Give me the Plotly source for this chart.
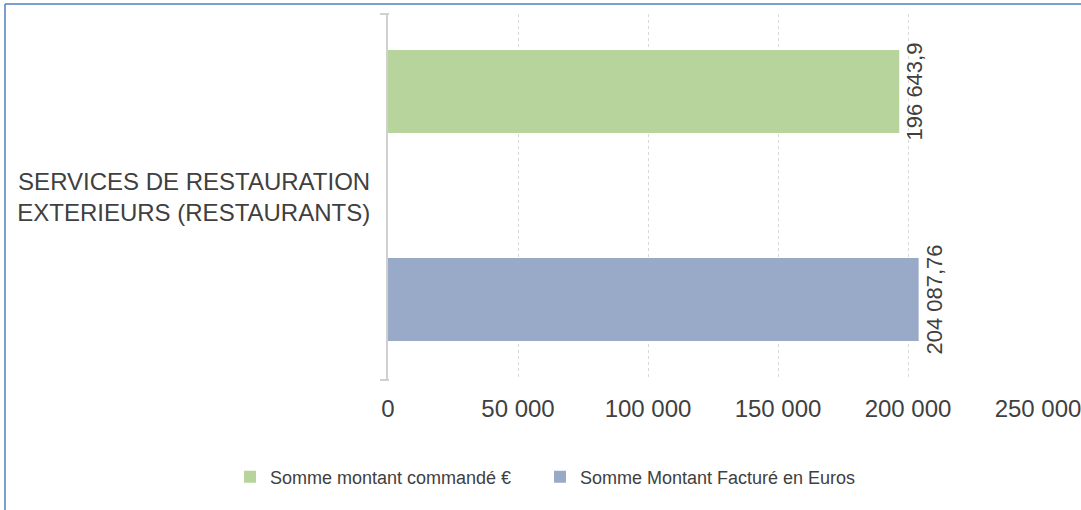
import plotly.graph_objects as go

categories = ["SERVICES DE RESTAURATION<br>EXTERIEURS (RESTAURANTS)"]
series_names = ["Somme montant commandé €", "Somme Montant Facturé en Euros"]
commande = [196643.9]
facture = [204087.76]
commande_labels = ["196 643,9"]
facture_labels = ["204 087,76"]
tick_vals = [0, 50000, 100000, 150000, 200000, 250000]
tick_text = ["0", "50 000", "100 000", "150 000", "200 000", "250 000"]

FONT = "Liberation Sans, Arial, sans-serif"
TXT = "#404040"

L, R, T, B = 388, 43, 14, 130
W, H = 1081, 510
pw, ph = W - L - R, H - T - B

def px(x):
    return (x - L) / pw

def py(y):
    return (H - B - y) / ph

BAR_W = 83 / ph

fig = go.Figure()
fig.add_trace(go.Bar(
    y=categories, x=commande, orientation="h", name=series_names[0],
    marker=dict(color="#b6d49b", line=dict(width=0)),
    width=BAR_W, offset=(50 - T) / ph - 0.5, legend="legend",
    text=commande_labels, textposition="outside", textangle=-90,
    textfont=dict(size=22, color=TXT, family=FONT), cliponaxis=False,
))
fig.add_trace(go.Bar(
    y=categories, x=facture, orientation="h", name=series_names[1],
    marker=dict(color="#98aac8", line=dict(width=0)),
    width=BAR_W, offset=(258 - T) / ph - 0.5, legend="legend2",
    text=facture_labels, textposition="outside", textangle=-90,
    textfont=dict(size=22, color=TXT, family=FONT), cliponaxis=False,
))

shapes = [
    dict(type="line", xref="paper", yref="paper", x0=px(5), x1=px(1081), y0=py(4), y1=py(4),
         line=dict(color="#4f81bd", width=1.5)),
    dict(type="line", xref="paper", yref="paper", x0=px(5), x1=px(5), y0=py(4), y1=py(510),
         line=dict(color="#4f81bd", width=1.5)),
    dict(type="line", xref="paper", yref="paper", x0=px(380), x1=px(389), y0=1, y1=1,
         line=dict(color="#d0d0d0", width=2)),
    dict(type="line", xref="paper", yref="paper", x0=px(380), x1=px(389), y0=0, y1=0,
         line=dict(color="#d0d0d0", width=2)),
]

legend_font = dict(size=18, color=TXT, family=FONT)

fig.update_layout(
    width=W, height=H,
    margin=dict(l=L, r=R, t=T, b=B, autoexpand=False),
    paper_bgcolor="white", plot_bgcolor="white",
    barmode="overlay",
    font=dict(family=FONT, color=TXT),
    showlegend=True,
    legend=dict(orientation="h", x=px(230), xanchor="left", y=py(477), yanchor="middle",
                font=legend_font),
    legend2=dict(orientation="h", x=px(540), xanchor="left", y=py(477), yanchor="middle",
                 font=legend_font),
    shapes=shapes,
    xaxis=dict(range=[0, 250000], tickvals=tick_vals, ticktext=tick_text,
               showgrid=True, gridcolor="#d9d9d9", griddash="dot", gridwidth=1,
               zeroline=False, showline=False, automargin=False,
               ticklabeloverflow="allow",
               ticks="outside", ticklen=7, tickcolor="rgba(0,0,0,0)",
               tickfont=dict(size=24, color=TXT, family=FONT)),
    yaxis=dict(range=[0.5, -0.5], showline=True, linecolor="#d0d0d0", linewidth=2,
               showgrid=False, zeroline=False, automargin=False,
               ticks="outside", ticklen=11, tickcolor="rgba(0,0,0,0)",
               tickfont=dict(size=24, color=TXT, family=FONT)),
)

post = (
    "document.documentElement.style.margin='0';"
    "document.body.style.margin='0';"
    "document.documentElement.style.overflow='hidden';"
    "document.body.style.overflow='hidden';"
    "var gd=document.getElementById('{plot_id}');"
    "gd.style.overflow='hidden';"
)

fig.write_html("out.html", config={"displayModeBar": False}, post_script=post)
